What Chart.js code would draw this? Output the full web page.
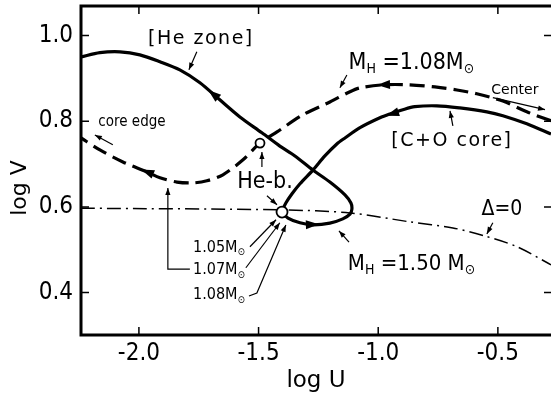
<!DOCTYPE html>
<html>
<head>
<meta charset="utf-8">
<script src="https://cdn.jsdelivr.net/npm/chart.js@4.4.1/dist/chart.umd.min.js"></script>
<style>
  html, body { margin: 0; padding: 0; background: #fff; }
  canvas { display: block; }
</style>
</head>
<body>
<canvas id="uvChart" width="551" height="399"></canvas>
<script>
// ---- values ----
const xTicks = [-2.0, -1.5, -1.0, -0.5];
const yTicks = [0.4, 0.6, 0.8, 1.0];

// M_H = 1.50 Msun : C+O core (from centre) -> He-b. loop -> He zone
const mh150U = [-0.278, -0.379, -0.479, -0.546, -0.659, -0.755, -0.847, -0.897, -0.951, -0.993,
  -1.076, -1.139, -1.173, -1.223, -1.273, -1.327, -1.361, -1.386, -1.398, -1.402,
  -1.377, -1.327, -1.273, -1.202, -1.148, -1.118, -1.110, -1.114, -1.139, -1.202,
  -1.273, -1.348, -1.411, -1.486, -1.578, -1.662, -1.745, -1.829, -1.912, -1.996,
  -2.079, -2.163, -2.242];
const mh150V = [0.770, 0.794, 0.813, 0.822, 0.831, 0.836, 0.834, 0.827, 0.817, 0.808,
  0.785, 0.761, 0.747, 0.719, 0.686, 0.654, 0.630, 0.609, 0.595, 0.588,
  0.574, 0.563, 0.558, 0.562, 0.572, 0.583, 0.595, 0.609, 0.628, 0.658,
  0.686, 0.719, 0.742, 0.773, 0.810, 0.850, 0.890, 0.920, 0.939, 0.955,
  0.962, 0.960, 0.950];

// M_H = 1.08 Msun (dashed)
const mh108U = [-0.278, -0.379, -0.479, -0.588, -0.671, -0.763, -0.868, -0.980, -1.076, -1.118,
  -1.202, -1.315, -1.423, -1.494, -1.565, -1.649, -1.716, -1.774, -1.841, -1.912,
  -1.967, -2.067, -2.163, -2.242];
const mh108V = [0.801, 0.822, 0.847, 0.864, 0.873, 0.880, 0.885, 0.885, 0.878, 0.869,
  0.845, 0.815, 0.775, 0.749, 0.710, 0.675, 0.661, 0.656, 0.658, 0.668,
  0.682, 0.705, 0.733, 0.761];

// Delta = 0
const deltaU = [-2.242, -1.402, -1.118, -0.867, -0.688, -0.554, -0.420, -0.278];
const deltaV = [0.597, 0.593, 0.586, 0.565, 0.551, 0.532, 0.507, 0.465];

// He-burning points (open circles)
const heBU = [-1.402, -1.494];
const heBV = [0.588, 0.749];

// text notes: parts [text, subscript?], anchor in data units
const notes = [
  { parts: [['[He zone]']], u: -1.741, v: 0.992, size: 19, fam: 'DejaVu Sans', sp: 1.5, align: 'center' },
  { parts: [['M'], ['H', 1], [' =1.08M'], ['\u2299', 1]], u: -1.124, v: 0.937, size: 23, fam: 'DejaVu Sans Condensed', align: 'left' },
  { parts: [['Center']], u: -0.429, v: 0.873, size: 14, fam: 'DejaVu Sans', align: 'center' },
  { parts: [['[C+O core]']], u: -0.692, v: 0.754, size: 19, fam: 'DejaVu Sans', sp: 1.5, align: 'center' },
  { parts: [['core edge']], u: -2.029, v: 0.798, size: 15, fam: 'DejaVu Sans Condensed', align: 'center' },
  { parts: [['He-b.']], u: -1.473, v: 0.658, size: 23, fam: 'DejaVu Sans Condensed', align: 'center' },
  { parts: [['1.05M'], ['\u2299', 1]], u: -1.774, v: 0.504, size: 16, fam: 'DejaVu Sans Condensed', align: 'left' },
  { parts: [['1.07M'], ['\u2299', 1]], u: -1.774, v: 0.452, size: 16, fam: 'DejaVu Sans Condensed', align: 'left' },
  { parts: [['1.08M'], ['\u2299', 1]], u: -1.774, v: 0.394, size: 16, fam: 'DejaVu Sans Condensed', align: 'left' },
  { parts: [['M'], ['H', 1], [' =1.50 M'], ['\u2299', 1]], u: -1.127, v: 0.467, size: 22, fam: 'DejaVu Sans Condensed', align: 'left' },
  { parts: [['\u0394=0']], u: -0.483, v: 0.593, size: 21, fam: 'DejaVu Sans Condensed', align: 'center' }
];

// thin pointer lines (u list, v list), arrow head at the last point
const pointers = [
  [[-1.758, -1.791], [0.962, 0.920]],
  [[-1.131, -1.160], [0.908, 0.878]],
  [[-0.521, -0.303], [0.855, 0.827]],
  [[-0.688, -0.700], [0.789, 0.824]],
  [[-2.109, -2.184], [0.745, 0.768]],
  [[-1.486, -1.486], [0.693, 0.728]],
  [[-1.465, -1.423], [0.626, 0.605]],
  [[-1.787, -1.879, -1.879], [0.455, 0.455, 0.644]],
  [[-1.536, -1.427], [0.507, 0.570]],
  [[-1.553, -1.411], [0.458, 0.563]],
  [[-1.540, -1.507, -1.386], [0.392, 0.399, 0.558]],
  [[-1.122, -1.164], [0.518, 0.544]],
  [[-0.521, -0.546], [0.563, 0.537]]
];

// direction heads on the curves: [u, v, towardU, towardV]
const flowHeads = [
  [-1.691, 0.864, -1.770, 0.900],
  [-0.943, 0.817, -0.993, 0.808],
  [-1.273, 0.559, -1.220, 0.560],
  [-0.980, 0.885, -1.030, 0.884],
  [-1.967, 0.682, -2.020, 0.694]
];

const pts = (us, vs) => us.map((u, i) => ({ x: u, y: vs[i] }));
const TICK_FONT = { family: 'DejaVu Sans Condensed', size: 24 };

function head(ctx, x0, y0, x1, y1, len, hw) {
  const a = Math.atan2(y1 - y0, x1 - x0);
  ctx.beginPath();
  ctx.moveTo(x1, y1);
  ctx.lineTo(x1 - len * Math.cos(a) + hw * Math.sin(a), y1 - len * Math.sin(a) - hw * Math.cos(a));
  ctx.lineTo(x1 - len * Math.cos(a) - hw * Math.sin(a), y1 - len * Math.sin(a) + hw * Math.cos(a));
  ctx.closePath();
  ctx.fill();
}

const figurePlugin = {
  id: 'figure',
  afterDatasetsDraw(chart) {
    const { ctx, chartArea: a, scales: { x, y } } = chart;
    const px = u => x.getPixelForValue(u), py = v => y.getPixelForValue(v);
    ctx.save();
    ctx.strokeStyle = '#000';
    ctx.fillStyle = '#000';

    // frame (right side falls off the picture)
    ctx.lineWidth = 3;
    ctx.beginPath();
    ctx.moveTo(a.right + 2, a.top);
    ctx.lineTo(a.left, a.top);
    ctx.lineTo(a.left, a.bottom);
    ctx.lineTo(a.right + 2, a.bottom);
    ctx.stroke();

    // inward ticks
    ctx.lineWidth = 1.5;
    ctx.beginPath();
    xTicks.forEach(t => {
      ctx.moveTo(px(t), a.top); ctx.lineTo(px(t), a.top + 8);
      ctx.moveTo(px(t), a.bottom); ctx.lineTo(px(t), a.bottom - 8);
    });
    yTicks.forEach(t => {
      ctx.moveTo(a.left, py(t)); ctx.lineTo(a.left + 8, py(t));
      ctx.moveTo(a.right, py(t)); ctx.lineTo(a.right - 7, py(t));
    });
    ctx.stroke();

    // pointer lines
    ctx.lineWidth = 1.2;
    pointers.forEach(([us, vs]) => {
      ctx.beginPath();
      us.forEach((u, i) => i ? ctx.lineTo(px(u), py(vs[i])) : ctx.moveTo(px(u), py(vs[i])));
      ctx.stroke();
      const n = us.length - 1;
      head(ctx, px(us[n - 1]), py(vs[n - 1]), px(us[n]), py(vs[n]), 7, 2.6);
    });

    // flow direction heads
    flowHeads.forEach(([u, v, tu, tv]) => {
      const x0 = px(u), y0 = py(v), x1 = px(tu), y1 = py(tv);
      const d = Math.hypot(x1 - x0, y1 - y0);
      head(ctx, x0, y0, x0 + (x1 - x0) / d * 6, y0 + (y1 - y0) / d * 6, 13, 4.5);
    });

    // notes
    ctx.textBaseline = 'middle';
    ctx.textAlign = 'left';
    notes.forEach(n => {
      const segs = n.parts.map(([t, sub]) => {
        const fs = sub ? Math.round(n.size * 0.62) : n.size;
        ctx.font = fs + 'px "' + n.fam + '"';
        ctx.letterSpacing = (n.sp || 0) + 'px';
        return { t, sub, fs, w: ctx.measureText(t).width };
      });
      const total = segs.reduce((s, g) => s + g.w, 0);
      let cx = n.align === 'center' ? px(n.u) - total / 2 : px(n.u);
      const cy = py(n.v);
      segs.forEach(g => {
        ctx.font = g.fs + 'px "' + n.fam + '"';
        ctx.letterSpacing = (n.sp || 0) + 'px';
        ctx.fillText(g.t, cx, g.sub ? cy + n.size * 0.3 : cy);
        cx += g.w;
      });
    });
    ctx.letterSpacing = '0px';

    // y title
    ctx.font = '22px "DejaVu Sans"';
    ctx.textAlign = 'center';
    ctx.translate(20, py(0.644));
    ctx.rotate(-Math.PI / 2);
    ctx.fillText('log V', 0, 0);
    ctx.restore();
  }
};

new Chart(document.getElementById('uvChart'), {
  type: 'scatter',
  data: {
    datasets: [
      {
        label: 'He-b.',
        data: pts(heBU, heBV),
        pointRadius: [5.5, 4.5],
        pointBackgroundColor: '#fff',
        pointBorderColor: '#000',
        pointBorderWidth: 1.8
      },
      {
        label: 'M_H = 1.50',
        data: pts(mh150U, mh150V),
        showLine: true,
        borderColor: '#000',
        borderWidth: 3.2,
        pointRadius: 0,
        tension: 0.3
      },
      {
        label: 'M_H = 1.08',
        data: pts(mh108U, mh108V),
        showLine: true,
        borderColor: '#000',
        borderWidth: 3.2,
        borderDash: [15, 7],
        pointRadius: 0,
        tension: 0.3
      },
      {
        label: 'Delta = 0',
        data: pts(deltaU, deltaV),
        showLine: true,
        borderColor: '#000',
        borderWidth: 1.5,
        borderDash: [14, 5, 2, 5],
        pointRadius: 0,
        tension: 0.3
      }
    ]
  },
  options: {
    responsive: false,
    animation: false,
    layout: { autoPadding: false, padding: { top: 6, right: 0, left: 0, bottom: 0 } },
    plugins: { legend: { display: false }, tooltip: { enabled: false } },
    scales: {
      x: {
        type: 'linear',
        min: -2.242,
        max: -0.278,
        afterBuildTicks: s => { s.ticks = xTicks.map(v => ({ value: v })); },
        afterFit: s => { s.height = 64; s.paddingLeft = 0; s.paddingRight = 0; },
        grid: { display: false, drawTicks: false },
        border: { display: false },
        ticks: { color: '#000', font: TICK_FONT, padding: 4, callback: v => v.toFixed(1) },
        title: { display: true, text: 'log U', color: '#000', font: { family: 'DejaVu Sans', size: 23 }, padding: { top: 0, bottom: 4 } }
      },
      y: {
        type: 'linear',
        min: 0.301,
        max: 1.069,
        afterBuildTicks: s => { s.ticks = yTicks.map(v => ({ value: v })); },
        afterFit: s => { s.width = 81; s.paddingTop = 0; s.paddingBottom = 0; },
        grid: { display: false, drawTicks: false },
        border: { display: false },
        ticks: { color: '#000', font: TICK_FONT, padding: 8, callback: v => v.toFixed(1) }
      }
    }
  },
  plugins: [figurePlugin]
});
</script>
</body>
</html>
